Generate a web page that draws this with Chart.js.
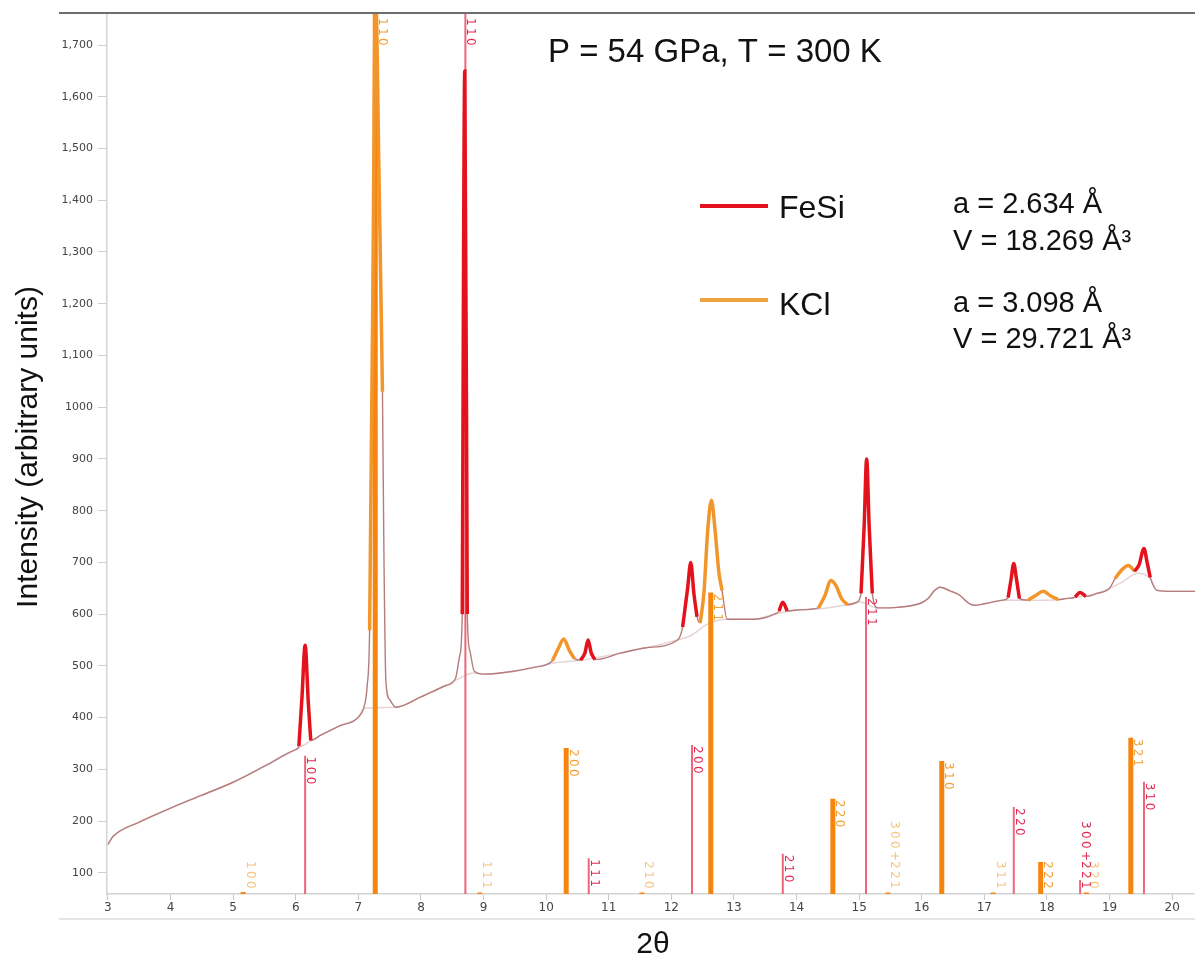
<!DOCTYPE html>
<html>
<head>
<meta charset="utf-8">
<title>FeSi + KCl diffraction, 54 GPa</title>
<script src="https://cdn.jsdelivr.net/npm/chart.js@4.4.1/dist/chart.umd.min.js"></script>
<style>
  html, body { margin: 0; padding: 0; background: #fff; }
  #wrap { width: 1195px; height: 958px; }
</style>
</head>
<body>
<div id="wrap"><canvas id="xrd" width="1195" height="958"></canvas></div>
<script>
// Measured pattern (2θ in degrees, intensity in arbitrary units)
const traceX = [3.00, 3.08, 3.50, 4.00, 4.50, 5.00, 5.50, 6.00, 6.05, 6.10, 6.15, 6.20, 6.24, 6.40, 6.70,
  7.00, 7.10, 7.14, 7.18, 7.23, 7.275, 7.33, 7.385, 7.41, 7.44, 7.50, 7.60, 8.00, 8.40, 8.55, 8.62,
  8.66, 8.70, 8.74, 8.78, 8.85, 9.00, 9.50, 9.80, 10.10, 10.20, 10.28, 10.37, 10.45, 10.55, 10.62,
  10.67, 10.72, 10.78, 11.20, 11.60, 12.10, 12.18, 12.26, 12.31, 12.36, 12.41, 12.46, 12.52, 12.58,
  12.64, 12.70, 12.76, 12.81, 12.89, 13.30, 13.65, 13.72, 13.78, 13.85, 14.00, 14.35, 14.45, 14.55,
  14.63, 14.72, 14.82, 14.95, 15.03, 15.08, 15.12, 15.16, 15.21, 15.30, 15.60, 16.00, 16.10, 16.20,
  16.29, 16.45, 16.60, 16.75, 16.85, 17.00, 17.30, 17.38, 17.43, 17.47, 17.51, 17.56, 17.70, 17.82,
  17.94, 18.06, 18.18, 18.30, 18.45, 18.53, 18.62, 18.80, 19.00, 19.09, 19.20, 19.30, 19.40, 19.47,
  19.55, 19.60, 19.65, 19.76, 20.00, 20.365];
const traceY = [155, 170, 198, 225, 250, 275, 306, 338, 345, 440, 540, 430, 356, 366, 384,
  401, 425, 460, 569, 1200, 1800, 1450, 1030, 700, 470, 435, 420, 440, 462, 475, 520,
  600, 1650, 600, 530, 490, 484, 490, 497, 510, 535, 552, 530, 514, 511, 525,
  550, 525, 512, 525, 535, 550, 575, 650, 700, 640, 595, 583, 640, 760,
  820, 760, 680, 646, 590, 590, 600, 606, 623, 606, 608, 612, 635, 665,
  655, 630, 618, 622, 640, 770, 900, 770, 640, 612, 613, 622, 630, 645,
  652, 645, 637, 621, 617, 620, 627, 632, 670, 698, 670, 630, 627, 636,
  644, 635, 628, 630, 633, 642, 634, 640, 650, 669, 686, 694, 683, 695,
  727, 700, 671, 646, 644, 644];

// fitted background under the peaks
const bgX = [3.00, 3.08, 3.50, 4.00, 4.50, 5.00, 5.50, 6.00, 6.40, 6.70, 7.00, 7.10, 7.60, 8.00, 8.40,
  8.55, 8.85, 9.00, 9.50, 9.80, 10.10, 10.55, 11.20, 11.60, 12.10, 12.30, 12.60, 12.89, 13.30, 13.65,
  14.00, 14.35, 14.80, 15.00, 15.30, 15.60, 16.00, 16.10, 16.20, 16.29, 16.45, 16.60, 16.75, 16.85,
  17.00, 17.30, 17.70, 18.18, 18.30, 18.80, 19.00, 19.20, 19.45, 19.65, 19.76, 20.00, 20.365];
const bgY = [155, 170, 198, 225, 250, 275, 306, 338, 366, 384, 401, 418, 420, 440, 462,
  472, 486, 484, 490, 497, 505, 511, 525, 535, 550, 558, 582, 590, 590, 600,
  608, 610, 618, 624, 612, 613, 622, 630, 645, 652, 645, 637, 621, 617,
  620, 627, 627, 628, 630, 640, 650, 662, 679, 669, 646, 644, 644];

// 2θ ranges where each phase's fitted peaks are highlighted
const fesiPeakRanges = [[6.05, 6.24], [8.66, 8.74], [10.55, 10.78], [12.18, 12.41], [13.72, 13.85],
  [15.03, 15.21], [17.38, 17.56], [18.45, 18.62], [19.40, 19.65]];
const kclPeakRanges = [[7.18, 7.385], [10.10, 10.45], [12.46, 12.81], [14.35, 14.82], [17.70, 18.18],
  [19.09, 19.40]];

// reference stick patterns
const fesiHkl = ['100', '110', '111', '200', '210', '211', '220', '300+221', '310'];
const fesiPos = [6.15, 8.71, 10.68, 12.33, 13.78, 15.11, 17.47, 18.53, 19.55];
const fesiInt = [326, 1800, 128, 347, 137, 633, 227, 86, 276];

const kclHkl = ['100', '110', '111', '200', '210', '211', '220', '300+221', '310', '311', '222', '320', '321'];
const kclPos = [5.16, 7.27, 8.94, 10.32, 11.53, 12.63, 14.58, 15.46, 16.32, 17.14, 17.90, 18.63, 19.34];
const kclInt = [63, 1800, 62, 341, 62, 642, 243, 62, 316, 62, 121, 62, 361];

// axis ticks
const xTicks = [3, 4, 5, 6, 7, 8, 9, 10, 11, 12, 13, 14, 15, 16, 17, 18, 19, 20];
const yTicks = [100, 200, 300, 400, 500, 600, 700, 800, 900, 1000, 1100, 1200, 1300, 1400, 1500, 1600, 1700];
const yTickLabels = ['100', '200', '300', '400', '500', '600', '700', '800', '900', '1000',
  '1,100', '1,200', '1,300', '1,400', '1,500', '1,600', '1,700'];

const RED = '#e3121c';
const ORANGE = '#f2962c';
const FESI_STICK = '#ee6678';
const KCL_STICK = '#f5850f';
const FESI_LABEL = '#e02a52';
const KCL_LABEL = '#f0a032';
const KCL_LABEL_WEAK = '#f6c47e';

const inRange = (x, ranges) => ranges.some(r => x >= r[0] - 1e-9 && x <= r[1] + 1e-9);

const tracePts = traceX.map((x, i) => ({ x, y: traceY[i] }));
const peakPts = ranges => traceX.map((x, i) => ({ x, y: inRange(x, ranges) ? traceY[i] : null }));
const stickPts = (pos, ints) => pos.flatMap((p, i) => [{ x: p, y: 0 }, { x: p, y: ints[i] }, { x: p, y: null }]);

const smooth = { pointRadius: 0, cubicInterpolationMode: 'monotone', spanGaps: false, fill: false };

// hkl labels, written top to bottom beside each stick
function drawHkl(chart, pos, ints, names, color, weakColor, halfW) {
  const { ctx, chartArea } = chart;
  const xs = chart.scales.x, ys = chart.scales.y;
  const step = 10;
  ctx.save();
  ctx.font = '12px "DejaVu Sans"';
  ctx.textBaseline = 'alphabetic';
  ctx.textAlign = 'left';
  names.forEach((name, i) => {
    const len = name.length * step;
    let top = ints[i] > ys.max ? chartArea.top + 4 : ys.getPixelForValue(ints[i]) + 1;
    if (top + len > chartArea.bottom - 3) top = chartArea.bottom - 3 - len;
    const x0 = xs.getPixelForValue(pos[i]) + halfW + 1;
    ctx.fillStyle = ints[i] < 70 ? weakColor : color;
    ctx.save();
    ctx.translate(x0, top);
    ctx.rotate(Math.PI / 2);
    for (let k = 0; k < name.length; k++) ctx.fillText(name[k], k * step, 0);
    ctx.restore();
  });
  ctx.restore();
}

const annotate = {
  id: 'annotate',
  beforeDraw(chart) {
    const { ctx, width, height } = chart;
    ctx.save();
    ctx.fillStyle = '#fff';
    ctx.fillRect(0, 0, width, height);
    ctx.restore();
  },
  afterDatasetsDraw(chart) {
    drawHkl(chart, kclPos, kclInt, kclHkl, KCL_LABEL, KCL_LABEL_WEAK, 2.5);
    drawHkl(chart, fesiPos, fesiInt, fesiHkl, FESI_LABEL, FESI_LABEL, 1);
  },
  afterDraw(chart) {
    const { ctx, width } = chart;
    ctx.save();
    // frame lines
    ctx.strokeStyle = '#6e6e6e';
    ctx.lineWidth = 2;
    ctx.beginPath(); ctx.moveTo(59, 13); ctx.lineTo(width, 13); ctx.stroke();
    ctx.strokeStyle = '#dcdcdc';
    ctx.lineWidth = 1.5;
    ctx.beginPath(); ctx.moveTo(59, 919); ctx.lineTo(width, 919); ctx.stroke();

    ctx.fillStyle = '#111';
    ctx.textBaseline = 'alphabetic';
    ctx.textAlign = 'left';
    ctx.font = '33px "Liberation Sans", Arial, sans-serif';
    ctx.fillText('P = 54 GPa, T = 300 K', 548, 62);

    // legend
    ctx.lineWidth = 4;
    ctx.strokeStyle = RED;
    ctx.beginPath(); ctx.moveTo(700, 206); ctx.lineTo(768, 206); ctx.stroke();
    ctx.strokeStyle = '#eea43c';
    ctx.beginPath(); ctx.moveTo(700, 300); ctx.lineTo(768, 300); ctx.stroke();
    ctx.font = '32px "Liberation Sans", Arial, sans-serif';
    ctx.fillText('FeSi', 779, 218);
    ctx.fillText('KCl', 779, 315);

    ctx.font = '29px "Liberation Sans", Arial, sans-serif';
    ctx.fillText('a = 2.634 Å', 953, 213);
    ctx.fillText('V = 18.269 Å³', 953, 250);
    ctx.fillText('a = 3.098 Å', 953, 312);
    ctx.fillText('V = 29.721 Å³', 953, 348);

    // axis titles
    ctx.font = '30px "Liberation Sans", Arial, sans-serif';
    ctx.textAlign = 'center';
    ctx.fillText('2θ', 653, 953);
    ctx.translate(29, 447);
    ctx.rotate(-Math.PI / 2);
    ctx.textBaseline = 'middle';
    ctx.fillText('Intensity (arbitrary units)', 0, 0);
    ctx.restore();
  }
};

new Chart(document.getElementById('xrd'), {
  type: 'line',
  data: {
    datasets: [
      { label: 'FeSi', data: peakPts(fesiPeakRanges), borderColor: RED, borderWidth: 3.5, order: 1, ...smooth },
      { label: 'KCl', data: peakPts(kclPeakRanges), borderColor: ORANGE, borderWidth: 3.5, order: 1, ...smooth },
      { label: 'pattern', data: tracePts, borderColor: '#b57c7c', borderWidth: 1.4, order: 2, ...smooth },
      { label: 'FeSi ref', data: stickPts(fesiPos, fesiInt), borderColor: FESI_STICK, borderWidth: 2,
        order: 3, pointRadius: 0, spanGaps: false, borderCapStyle: 'butt' },
      { label: 'KCl ref', data: stickPts(kclPos, kclInt), borderColor: KCL_STICK, borderWidth: 5,
        order: 3, pointRadius: 0, spanGaps: false, borderCapStyle: 'butt' },
      { label: 'background', data: bgX.map((x, i) => ({ x, y: bgY[i] })), borderColor: '#e6d4d4',
        borderWidth: 1.5, order: 4, ...smooth }
    ]
  },
  options: {
    responsive: false,
    animation: false,
    layout: { padding: { top: 14, right: 0, bottom: 0, left: 0 } },
    plugins: { legend: { display: false }, tooltip: { enabled: false } },
    scales: {
      x: {
        type: 'linear',
        min: 2.985,
        max: 20.365,
        afterBuildTicks: s => { s.ticks = xTicks.map(v => ({ value: v })); },
        afterFit: s => { s.height = 64; },
        ticks: {
          autoSkip: false, maxRotation: 0, padding: 1, color: '#444',
          font: { family: 'DejaVu Sans', size: 12 },
          callback: v => String(v)
        },
        grid: { drawOnChartArea: false, tickLength: 6, color: '#c8c8c8' },
        border: { color: '#d4d4d4', width: 1.5 }
      },
      y: {
        min: 59,
        max: 1760,
        afterBuildTicks: s => { s.ticks = yTicks.map(v => ({ value: v })); },
        afterFit: s => { s.width = 107; },
        ticks: {
          padding: 5, color: '#444',
          font: { family: 'DejaVu Sans', size: 11 },
          callback: (v, i) => yTickLabels[i]
        },
        grid: { drawOnChartArea: false, tickLength: 9, color: '#cfcfcf' },
        border: { color: '#d4d4d4', width: 1.5 }
      }
    }
  },
  plugins: [annotate]
});
</script>
</body>
</html>
